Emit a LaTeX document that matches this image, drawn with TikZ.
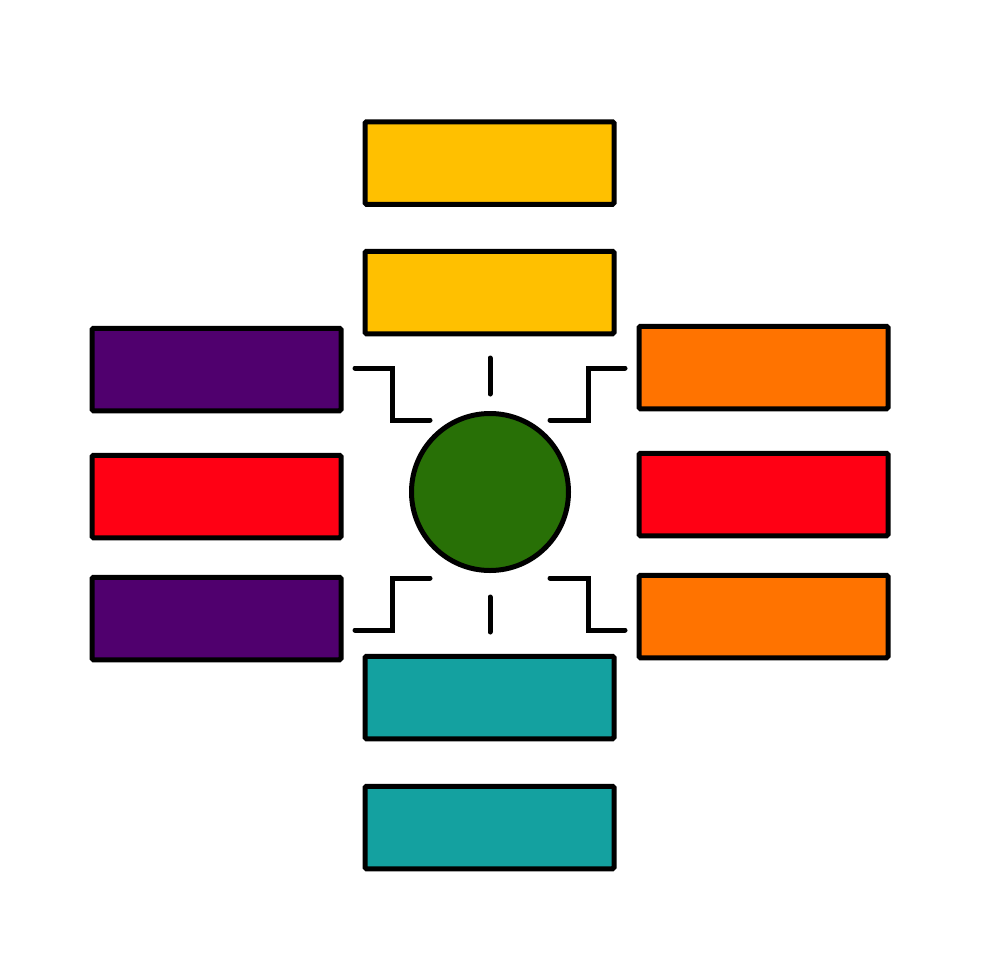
\documentclass[tikz,border=0pt]{standalone}
\definecolor{cyellow}{RGB}{255,192,0}
\definecolor{cpurple}{RGB}{80,0,110}
\definecolor{cred}{RGB}{255,0,20}
\definecolor{corange}{RGB}{255,115,0}
\definecolor{cteal}{RGB}{20,161,160}
\definecolor{cgreen}{RGB}{40,112,6}
\begin{document}
\begin{tikzpicture}[x=1pt,y=-1pt,
  box/.style={draw=black,line width=5pt,rounded corners=1.5pt,minimum width=249pt,minimum height=82.5pt,inner sep=0pt},
  link/.style={draw=black,line width=5pt,line cap=round,line join=miter}]
\useasboundingbox[fill=white] (0,0) rectangle (980,980);
\node[box,fill=cyellow] (y1) at (489.5,163) {};
\node[box,fill=cyellow] (y2) at (489.5,292.5) {};
\node[box,fill=cpurple] (p1) at (216.5,369.5) {};
\node[box,fill=cred] (r1) at (216.5,496.5) {};
\node[box,fill=cpurple] (p2) at (216.5,618.5) {};
\node[box,fill=corange] (o1) at (763.5,367.5) {};
\node[box,fill=cred] (r2) at (763.5,494.5) {};
\node[box,fill=corange] (o2) at (763.5,616.5) {};
\node[box,fill=cteal] (t1) at (489.5,697.5) {};
\node[box,fill=cteal] (t2) at (489.5,827.5) {};
\node[draw=black,line width=5pt,circle,fill=cgreen,minimum size=157pt,inner sep=0pt] (c) at (490,492) {};
\draw[link] (355,368) -- (392,368) -- (392,420) -- (430,420);
\draw[link] (490,358) -- (490,394);
\draw[link] (550,420) -- (588,420) -- (588,368) -- (625,368);
\draw[link] (355,630) -- (392,630) -- (392,578) -- (430,578);
\draw[link] (490,597) -- (490,632);
\draw[link] (550,578) -- (588,578) -- (588,630) -- (625,630);
\end{tikzpicture}
\end{document}
